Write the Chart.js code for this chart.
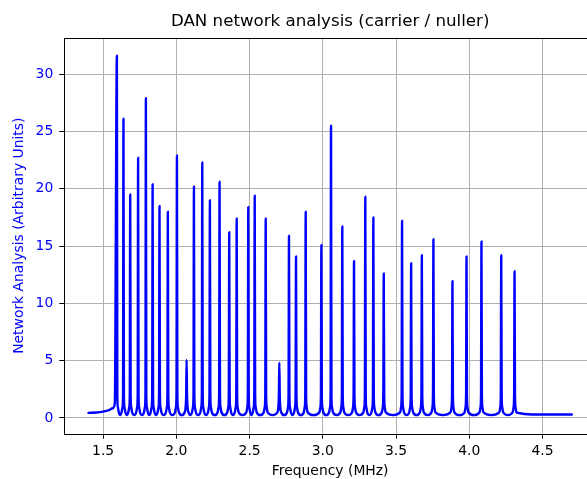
<!DOCTYPE html>
<html>
<head>
<meta charset="utf-8">
<script src="https://cdn.jsdelivr.net/npm/chart.js@4/dist/chart.umd.min.js"></script>
<style>
  html, body { margin: 0; padding: 0; overflow: hidden; background: #fff; }
  #wrap { width: 596px; height: 479px; }
</style>
</head>
<body>
<div id="wrap"><canvas id="c" width="596" height="479"></canvas></div>
<script>
// ---- data ----
const peakFreqs = [1.594, 1.639, 1.685, 1.739, 1.792, 1.838, 1.885, 1.942, 2.004, 2.070,
                   2.120, 2.177, 2.229, 2.295, 2.361, 2.412, 2.491, 2.535, 2.610, 2.703,
                   2.769, 2.817, 2.883, 2.990, 3.056, 3.133, 3.213, 3.290, 3.345, 3.416,
                   3.541, 3.603, 3.676, 3.755, 3.885, 3.981, 4.083, 4.218, 4.309];
const peakHeights = [31.6, 26.1, 19.5, 22.7, 27.9, 20.4, 18.5, 18.0, 22.9, 5.06,
                     20.2, 22.3, 19.0, 20.6, 16.2, 17.4, 18.4, 19.4, 17.4, 4.83,
                     15.9, 14.1, 18.0, 15.1, 25.5, 16.7, 13.7, 19.3, 17.5, 12.6,
                     17.2, 13.5, 14.2, 15.6, 11.95, 14.1, 15.4, 14.2, 12.8];
// low-frequency baseline before the first resonance
const leadFreqs  = [1.40, 1.45, 1.50, 1.54, 1.565, 1.580];
const leadLevels = [0.45, 0.48, 0.55, 0.68, 0.85, 1.3];
// shape of a resonance foot (offset from the peak in MHz, level)
const footOffsets = [0.003, 0.0065, 0.013];
const footLevels  = [2.0, 0.95, 0.5];
const valleyLevel = 0.25;
const tailFreqs  = [4.33, 4.40, 4.55, 4.70];
const tailLevels = [0.45, 0.33, 0.3, 0.3];
const xTicks = [1.5, 2.0, 2.5, 3.0, 3.5, 4.0, 4.5];
const yTicks = [0, 5, 10, 15, 20, 25, 30];

// ---- build line points from the arrays ----
const pts = [];
leadFreqs.forEach((f, i) => pts.push({x: f, y: leadLevels[i]}));
peakFreqs.forEach((f, i) => {
  if (i > 0) {
    const mid = (peakFreqs[i - 1] + f) / 2;
    pts.push({x: mid, y: valleyLevel});
    for (let k = footOffsets.length - 1; k >= 0; k--) pts.push({x: f - footOffsets[k], y: footLevels[k]});
  }
  pts.push({x: f, y: peakHeights[i]});
  for (let k = 0; k < footOffsets.length; k++) pts.push({x: f + footOffsets[k], y: footLevels[k]});
});
tailFreqs.forEach((f, i) => pts.push({x: f, y: tailLevels[i]}));

const FONT = 'DejaVu Sans';

const frame = {
  id: 'frame',
  afterDatasetsDraw(chart) {
    const {ctx, chartArea: a} = chart;
    ctx.save();
    ctx.strokeStyle = '#000';
    ctx.lineWidth = 1;
    ctx.strokeRect(Math.round(a.left) + 0.5, Math.round(a.top) + 0.5,
                   Math.round(a.right - a.left), Math.round(a.bottom - a.top));
    ctx.restore();
  }
};

new Chart(document.getElementById('c'), {
  type: 'line',
  data: {
    datasets: [{
      data: pts,
      borderColor: '#0000ff',
      borderWidth: 2.4,
      borderJoinStyle: 'round',
      borderCapStyle: 'round',
      pointRadius: 0,
      fill: false,
      cubicInterpolationMode: 'monotone'
    }]
  },
  options: {
    responsive: false,
    animation: false,
    devicePixelRatio: 1,
    layout: { padding: 0 },
    plugins: {
      legend: { display: false },
      tooltip: { enabled: false },
      title: {
        display: true,
        fullSize: false,
        text: 'DAN network analysis (carrier / nuller)',
        color: '#000',
        font: { family: FONT, size: 16.67, weight: 'normal', lineHeight: 1.2 },
        padding: { top: 12, bottom: 5.7 }
      }
    },
    scales: {
      x: {
        type: 'linear',
        min: 1.235,
        max: 4.865,
        afterBuildTicks: s => { s.ticks = xTicks.map(v => ({value: v})); },
        afterFit: s => { s.height = 45.3; },
        grid: { color: '#b0b0b0', lineWidth: 1, drawTicks: true, tickLength: 5, tickColor: '#000' },
        border: { display: false },
        ticks: {
          color: '#000',
          font: { family: FONT, size: 13.9 },
          padding: 4,
          maxRotation: 0,
          callback: v => v.toFixed(1)
        },
        title: {
          display: true,
          text: 'Frequency (MHz)',
          color: '#000',
          font: { family: FONT, size: 13.9 },
          padding: { top: 0, bottom: -1 }
        }
      },
      y: {
        type: 'linear',
        min: -1.37,
        max: 33.17,
        afterBuildTicks: s => { s.ticks = yTicks.map(v => ({value: v})); },
        afterFit: s => { s.width = 64.3; },
        grid: { color: '#b0b0b0', lineWidth: 1, drawTicks: true, tickLength: 5, tickColor: '#000' },
        border: { display: false },
        ticks: {
          color: '#0000ff',
          font: { family: FONT, size: 13.9 },
          padding: 6,
          callback: v => String(v)
        },
        title: {
          display: true,
          text: 'Network Analysis (Arbitrary Units)',
          color: '#0000ff',
          font: { family: FONT, size: 13.9 },
          padding: { top: 11, bottom: 0 }
        }
      }
    }
  },
  plugins: [frame]
});
</script>
</body>
</html>
